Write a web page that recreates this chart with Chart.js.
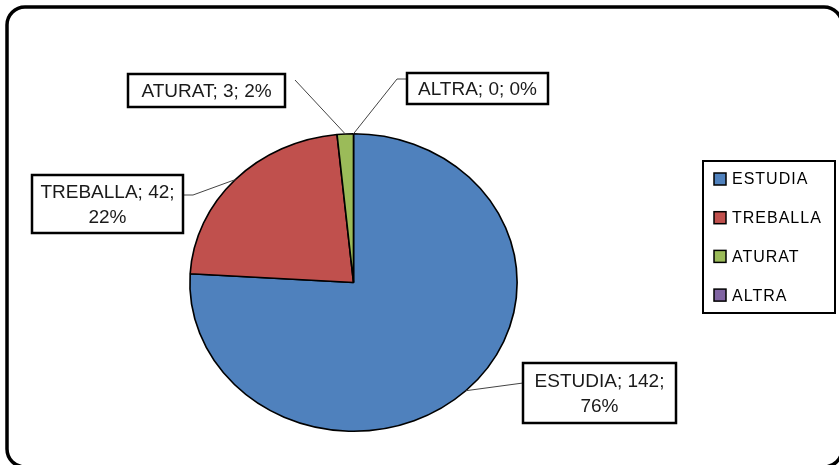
<!DOCTYPE html>
<html>
<head>
<meta charset="utf-8">
<script src="https://cdn.jsdelivr.net/npm/chart.js@4/dist/chart.umd.min.js"></script>
<style>
  body { margin: 0; background: #fff; }
  canvas { display: block; }
</style>
</head>
<body>
<canvas id="situacio" width="839" height="465"></canvas>
<script>
const categories = ['ESTUDIA', 'TREBALLA', 'ATURAT', 'ALTRA']
const values = [142, 42, 3, 0]
const colors = ['#4F81BD', '#C0504D', '#9BBB59', '#8064A2']

// where the data label boxes sit, and the bend of each leader line
const labelBoxes = [
    { x: 523, y: 363, w: 153, h: 60, wrap: true, path: [[523, 383]] },
    { x: 32, y: 175, w: 151, h: 58, wrap: true, path: [[193, 195], [183, 195]] },
    { x: 128, y: 74, w: 157, h: 33, wrap: false, path: [[295, 80]] },
    { x: 407, y: 73, w: 141, h: 31, wrap: false, path: [[397, 79], [407, 79]] }
]

const stretch = 1.1
const context = document.getElementById('situacio').getContext('2d')

const frame = {
    id: 'frame',
    beforeDraw: (chart) => {
        const ctx = chart.ctx
        ctx.save()
        ctx.fillStyle = '#fff'
        ctx.fillRect(0, 0, chart.width, chart.height)
        ctx.strokeStyle = '#000'
        ctx.lineWidth = 3.5
        ctx.beginPath()
        ctx.roundRect(7, 7, 835, 460, 18)
        ctx.stroke()
        ctx.restore()
    }
}

const ellipse = {
    id: 'ellipse',
    beforeDatasetsDraw: (chart) => {
        const arc = chart.getDatasetMeta(0).data[0]
        const ctx = chart.ctx
        ctx.save()
        ctx.translate(arc.x, arc.y)
        ctx.scale(stretch, 1)
        ctx.translate(-arc.x, -arc.y)
    },
    afterDatasetsDraw: (chart) => {
        chart.ctx.restore()
    }
}

const labels = {
    id: 'labels',
    afterDraw: (chart) => {
        const ctx = chart.ctx
        const meta = chart.getDatasetMeta(0)
        const total = values.reduce((a, b) => a + b, 0)
        ctx.save()
        meta.data.forEach((arc, i) => {
            const box = labelBoxes[i]
            const mid = (arc.startAngle + arc.endAngle) / 2
            const ax = arc.x + Math.cos(mid) * arc.outerRadius * stretch
            const ay = arc.y + Math.sin(mid) * arc.outerRadius

            // leader line
            ctx.strokeStyle = '#444'
            ctx.lineWidth = 1
            ctx.beginPath()
            ctx.moveTo(ax, ay)
            box.path.forEach(p => ctx.lineTo(p[0], p[1]))
            ctx.stroke()

            // box
            ctx.fillStyle = '#fff'
            ctx.fillRect(box.x, box.y, box.w, box.h)
            ctx.strokeStyle = '#000'
            ctx.lineWidth = 2.5
            ctx.strokeRect(box.x, box.y, box.w, box.h)

            const pct = Math.round(values[i] / total * 100) + '%'
            const lines = box.wrap
                ? [categories[i] + '; ' + values[i] + ';', pct]
                : [categories[i] + '; ' + values[i] + '; ' + pct]
            ctx.fillStyle = '#1a1a1a'
            ctx.font = '19px "Liberation Sans", Arial, sans-serif'
            ctx.textAlign = 'center'
            ctx.textBaseline = 'middle'
            const lh = 25
            const cy = box.y + box.h / 2 - (lines.length - 1) * lh / 2 + 1
            lines.forEach((t, k) => ctx.fillText(t, box.x + box.w / 2, cy + k * lh))
        })
        ctx.restore()
    }
}

const legendBox = {
    id: 'legendBox',
    afterDraw: (chart) => {
        const ctx = chart.ctx
        ctx.save()
        ctx.strokeStyle = '#000'
        ctx.lineWidth = 2
        ctx.strokeRect(703, 161, 132, 152)
        ctx.font = '16px "Liberation Sans", Arial, sans-serif'
        ctx.letterSpacing = '1px'
        ctx.textBaseline = 'middle'
        ctx.textAlign = 'left'
        categories.forEach((name, i) => {
            const y = 179 + i * 38.7
            ctx.fillStyle = colors[i]
            ctx.fillRect(714, y - 6, 12, 12)
            ctx.lineWidth = 1.5
            ctx.strokeRect(714, y - 6, 12, 12)
            ctx.fillStyle = '#000'
            ctx.fillText(name, 732, y + 1)
        })
        ctx.restore()
    }
}

new Chart(context, {
    type: 'pie',
    data: {
        labels: categories,
        datasets: [{
            data: values,
            backgroundColor: colors,
            borderColor: '#000',
            borderWidth: 1.5
        }]
    },
    options: {
        responsive: false,
        animation: false,
        events: [],
        layout: {
            padding: { left: 204, right: 336, top: 133, bottom: 33 }
        },
        plugins: {
            legend: { display: false },
            tooltip: { enabled: false }
        }
    },
    plugins: [frame, ellipse, labels, legendBox]
})
</script>
</body>
</html>
